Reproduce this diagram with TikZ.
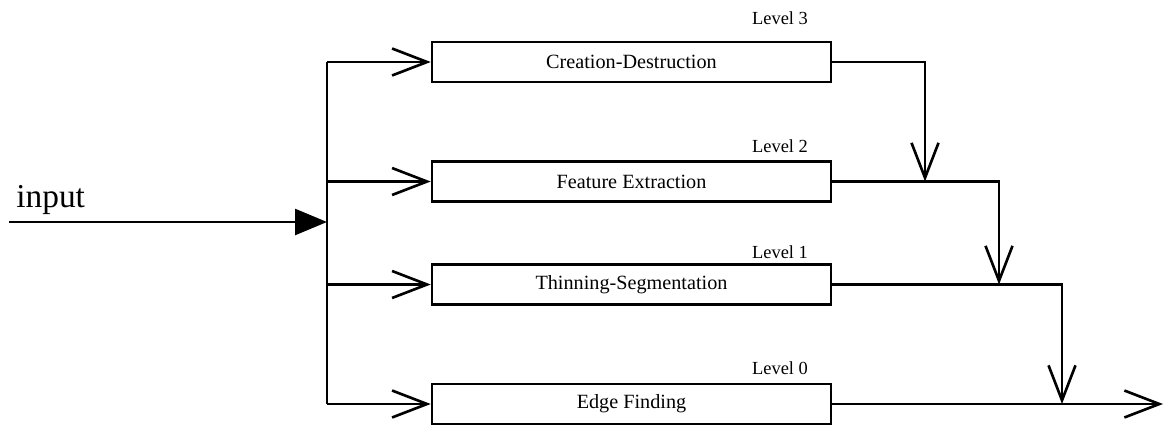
\documentclass[tikz,border=0pt]{standalone}
\usepackage{fontspec}
\setmainfont{Liberation Serif}
\usetikzlibrary{arrows.meta, positioning, calc}

\tikzset{
  stage/.style={draw, line width=1.5pt, minimum width=7.98cm, minimum height=0.8cm, inner sep=0pt, font=\fontsize{11.5}{13}\selectfont},
  level/.style={font=\fontsize{10.5}{12}\selectfont},
  wire/.style={line width=1.5pt},
  feed/.style={wire, -{Straight Barb[length=0.7cm, width=0.54cm]}},
}

\begin{document}
\begin{tikzpicture}[x=0.02cm, y=-0.02cm]
    \useasboundingbox (0,0) rectangle (1165,426);

    % Stages
    \foreach \n/\y/\txt in {3/62/Creation-Destruction, 2/181.5/Feature Extraction, 1/284.5/Thinning-Segmentation, 0/404/Edge Finding}
        \node[stage] (s\n) at (631.5,\y) {\txt};

    % Level labels
    \foreach \n/\y in {3/18, 2/146, 1/252, 0/368}
        \node[level] (l\n) at (780,\y) {Level \n};

    % Input and distribution bus
    \coordinate (bus) at (327,0);
    \coordinate (in) at (9,222);
    \node[anchor=base west, inner sep=0pt, font=\fontsize{19}{22}\selectfont] (inlabel) at (16,207) {input};
    \draw[wire, -{Triangle[length=0.64cm, width=0.52cm]}] (in) -- (in -| bus);
    \draw[wire, line cap=square] (s3.west -| bus) -- (s0.west -| bus);
    \foreach \n in {3,2,1,0}
        \draw[feed] (s\n.west -| bus) -- (s\n.west);

    % Outputs merging downwards
    \coordinate (j2) at (s2.east -| 925,0);
    \coordinate (j1) at (s1.east -| 999,0);
    \coordinate (j0) at (s0.east -| 1062,0);
    \coordinate (out) at (s0.east -| 1163,0);
    \draw[feed] (s3.east) -| (j2);
    \draw[feed] (s2.east) -| (j1);
    \draw[feed] (s1.east) -| (j0);
    \draw[feed] (s0.east) -- (out);
\end{tikzpicture}
\end{document}
